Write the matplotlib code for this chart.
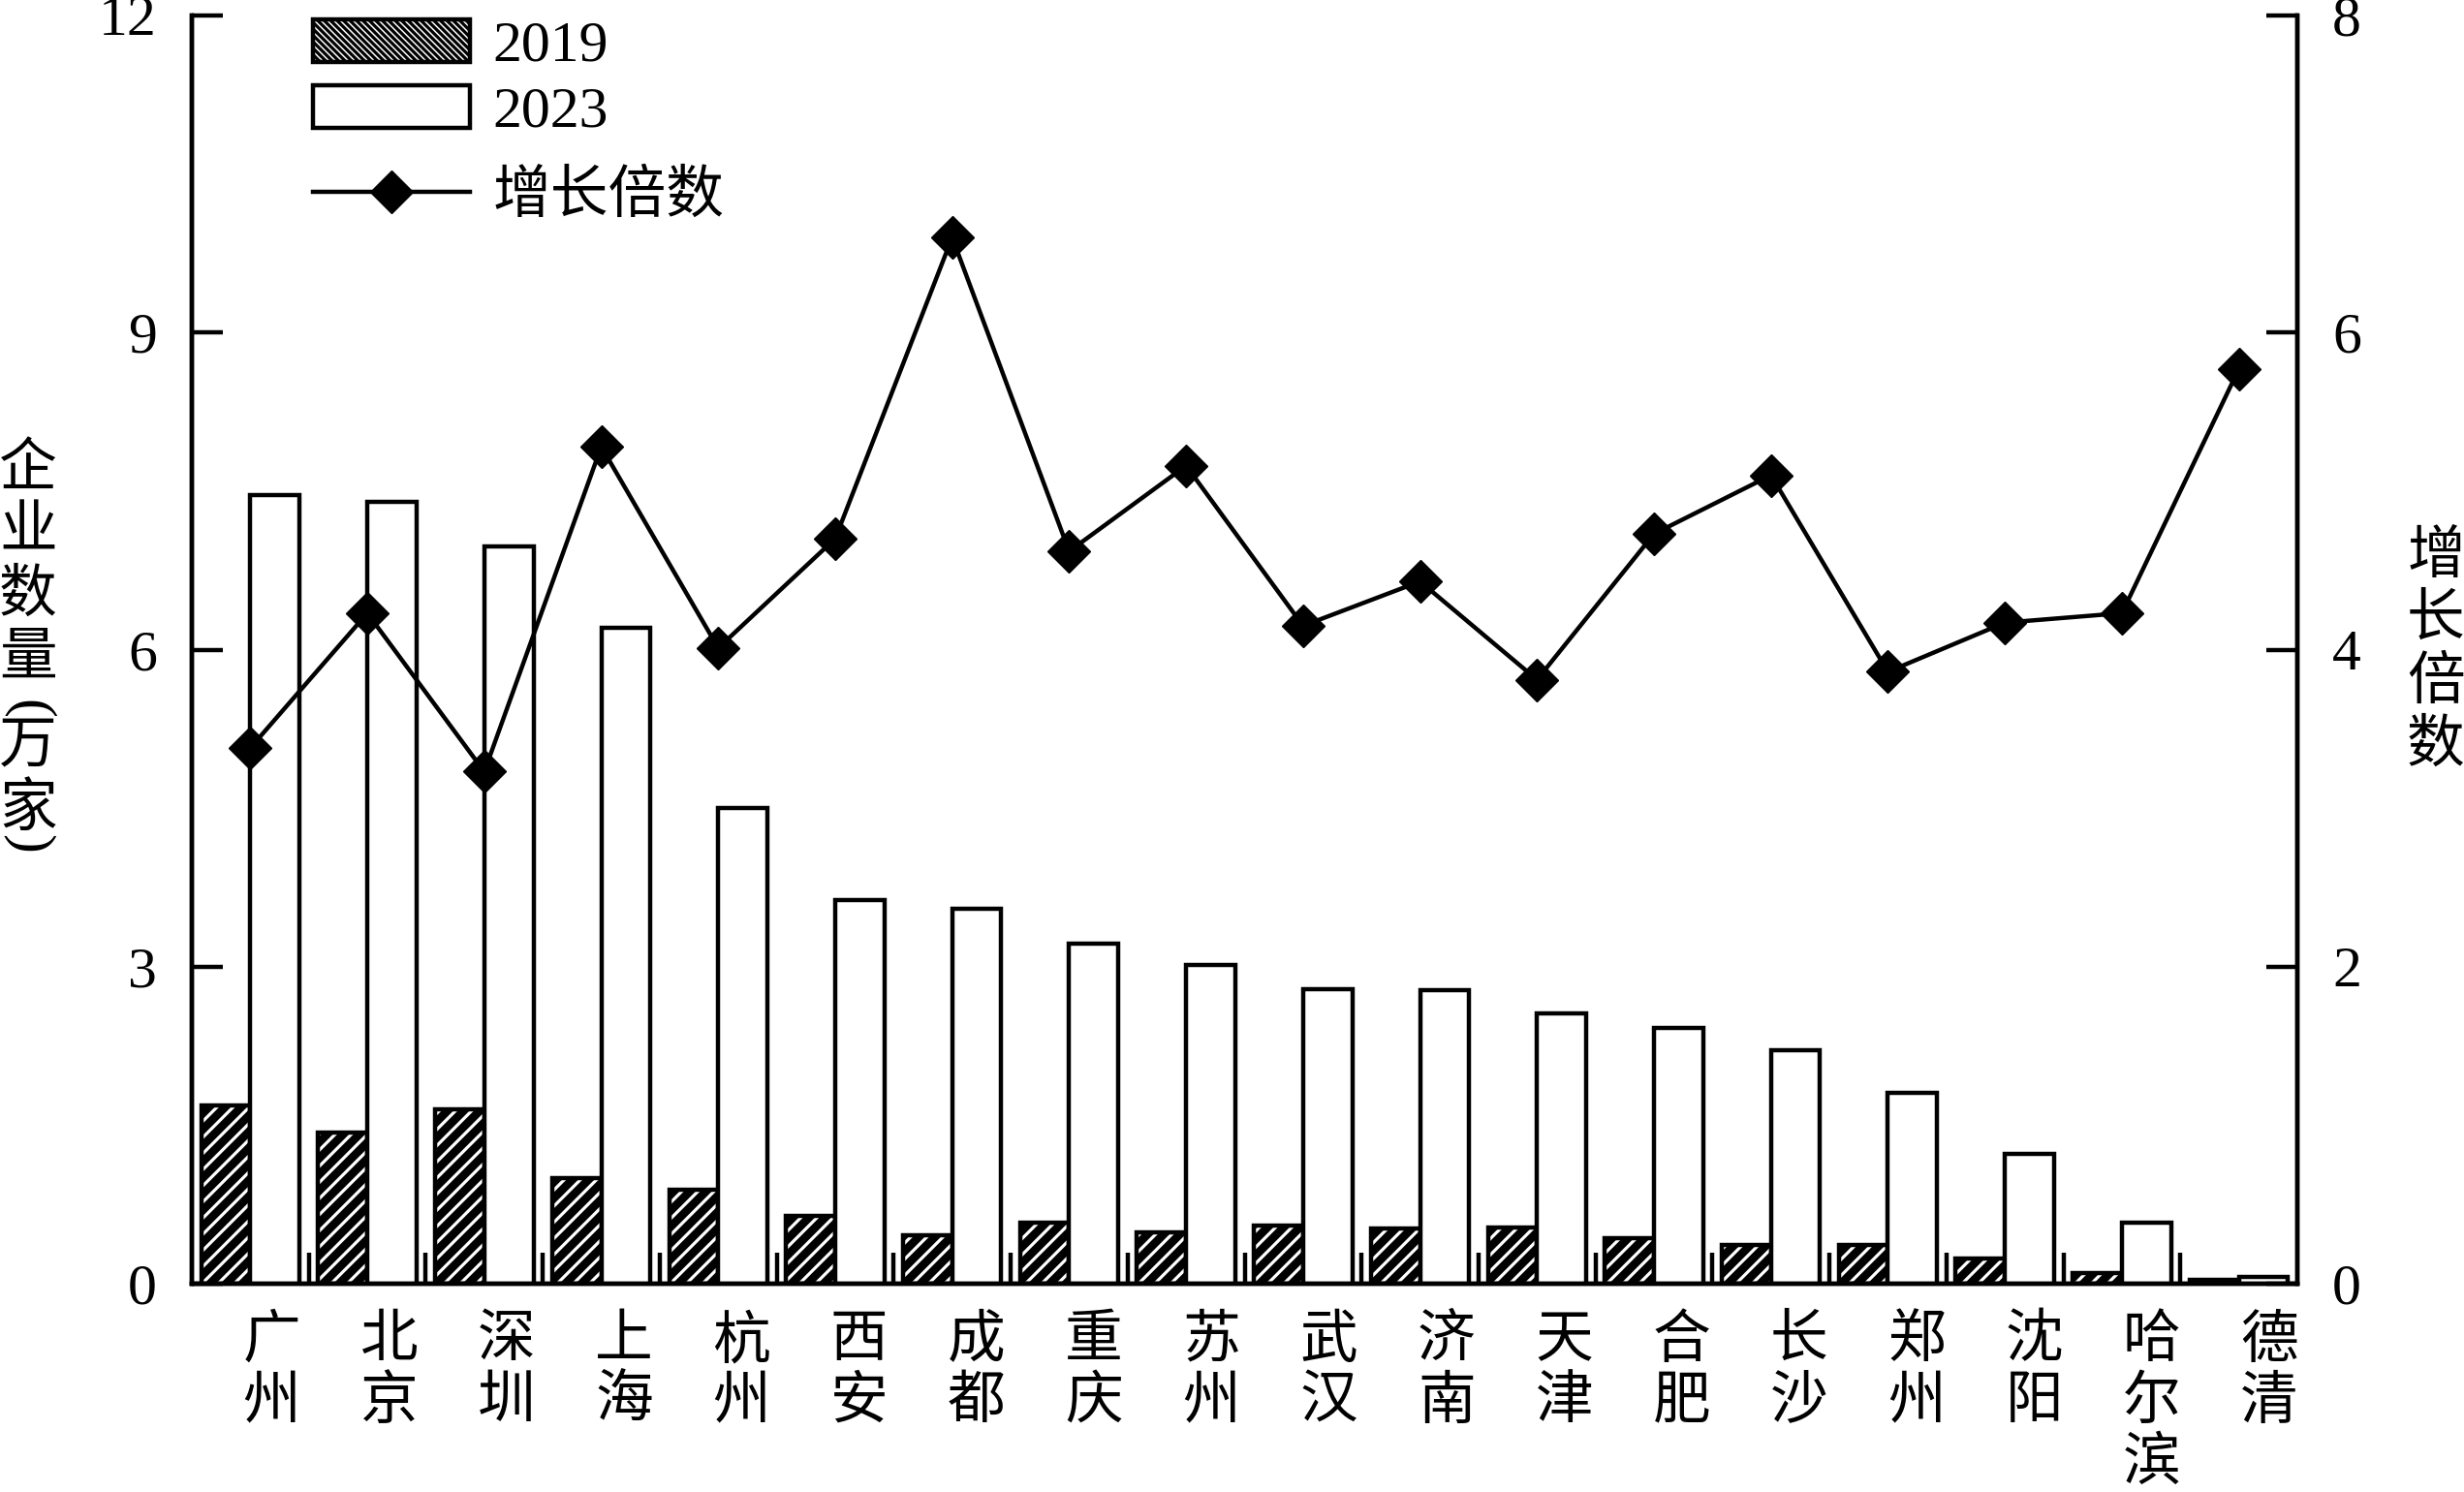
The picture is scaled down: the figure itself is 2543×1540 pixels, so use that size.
"""
plot.py
───────
Enterprise counts by city (2019 vs 2023) with growth multiple on a twin axis.
"""

import matplotlib

matplotlib.use("Agg")

import matplotlib.pyplot as plt
import numpy as np
from matplotlib.lines import Line2D
from matplotlib.patches import Patch


# ─────────────────────────────────────────────
# Data
# ─────────────────────────────────────────────

cities = [
    "广州", "北京", "深圳", "上海", "杭州", "西安", "成都", "重庆", "苏州",
    "武汉", "济南", "天津", "合肥", "长沙", "郑州", "沈阳", "哈尔滨", "德清",
]

count_2019 = [
    1.69, 1.43, 1.65, 1.00, 0.89, 0.64, 0.46, 0.58, 0.49,
    0.55, 0.52, 0.53, 0.43, 0.37, 0.37, 0.24, 0.10, 0.04,
]

count_2023 = [
    7.46, 7.40, 6.98, 6.21, 4.50, 3.63, 3.55, 3.22, 3.02,
    2.79, 2.78, 2.56, 2.42, 2.21, 1.81, 1.23, 0.58, 0.06,
]

growth = [
    3.38, 4.23, 3.23, 5.28, 4.01, 4.70, 6.60, 4.62, 5.16,
    4.15, 4.43, 3.81, 4.73, 5.10, 3.86, 4.17, 4.23, 5.77,
]

left_ticks  = [0, 3, 6, 9, 12]
right_ticks = [0, 2, 4, 6, 8]

left_title  = "企业数量(万家)"
right_title = "增长倍数"


# ─────────────────────────────────────────────
# Plot Defaults
# ─────────────────────────────────────────────

_W, _H    = 2543, 1540
_DPI      = 100
_FONT     = 43
_LW       = 3.2
_BAR_W    = 0.42
_MS       = 22
_AX_TOP   = 16      # px from figure top
_AX_BOT   = 1325
_AX_LEFT  = 198
_AX_RIGHT = 2371

plt.rcParams["font.family"] = ["Liberation Serif", "Noto Sans CJK SC"]
plt.rcParams["font.size"]   = _FONT
plt.rcParams["hatch.linewidth"] = 2.3


def _vertical_title(fig, x_px, top_px, text, pitch=65, half=26):
    """Stack characters top to bottom; brackets turned sideways, half step."""
    y = top_px
    for ch in text:
        if ch == "(":
            y_c, rot = y + half / 2 + 1, 270
            y += half
        elif ch == ")":
            y_c, rot = y + half / 2 - 16, 270
            y += half
        else:
            y_c, rot = y + pitch / 2 - 4, 0
            y += pitch
        fig.text(x_px / _W, 1 - y_c / _H, ch, rotation=rot,
                 ha="center", va="center")


def main():
    x = np.arange(len(cities))

    fig = plt.figure(figsize=(_W / _DPI, _H / _DPI), dpi=_DPI)
    ax1 = fig.add_axes([
        _AX_LEFT / _W, 1 - _AX_BOT / _H,
        (_AX_RIGHT - _AX_LEFT) / _W, (_AX_BOT - _AX_TOP) / _H,
    ])

    # 2019 bars: black fill with white stripes, then black outline
    ax1.bar(x - _BAR_W / 2, count_2019, _BAR_W, color="black",
            edgecolor="white", hatch="//", linewidth=0, zorder=2)
    ax1.bar(x - _BAR_W / 2, count_2019, _BAR_W, fill=False,
            edgecolor="black", linewidth=_LW, zorder=3)

    # 2023 bars: hollow
    ax1.bar(x + _BAR_W / 2, count_2023, _BAR_W, color="white",
            edgecolor="black", linewidth=_LW, zorder=3)

    ax1.set_xlim(-0.5, len(cities) - 0.5)
    ax1.set_ylim(0, 12)
    ax1.set_yticks(left_ticks)
    ax1.set_xticks(x[:-1] + 0.5)
    ax1.set_xticklabels([])

    ax1.tick_params(axis="y", direction="in", length=23, width=_LW, pad=26)
    ax1.tick_params(axis="x", direction="in", length=23, width=_LW)

    for side in ("left", "right", "bottom"):
        ax1.spines[side].set_linewidth(_LW)
    ax1.spines["top"].set_visible(False)

    # City names, one character per row under each group
    ax_h = _AX_BOT - _AX_TOP
    label_x = np.linspace(0.18, len(cities) - 1 + 0.26, len(cities))
    for lx, name in zip(label_x, cities):
        for j, ch in enumerate(name):
            y_c = 1356 + 25 + 63 * j + 5
            ax1.text(lx, -(y_c - _AX_BOT) / ax_h, ch,
                     transform=ax1.get_xaxis_transform(),
                     ha="center", va="center", clip_on=False)

    # Growth multiple on twin axis
    ax2 = ax1.twinx()
    ax2.plot(x, growth, "-", color="black", lw=_LW, marker="D",
             markersize=_MS, markerfacecolor="black", zorder=4)
    ax2.set_ylim(0, 8)
    ax2.set_yticks(right_ticks)
    ax2.tick_params(axis="y", direction="in", length=23, width=_LW, pad=26)
    ax2.spines["top"].set_visible(False)
    for side in ("left", "right", "bottom"):
        ax2.spines[side].set_linewidth(_LW)

    # Axis titles, vertical
    _vertical_title(fig, 29, 458, left_title)
    _vertical_title(fig, 2514, 548, right_title)

    # Legend: bar patches, then the line entry a bit lower
    bar_handles = [
        Patch(facecolor="white", edgecolor="black", hatch="\\\\\\\\\\", linewidth=_LW),
        Patch(facecolor="white", edgecolor="black", linewidth=_LW),
    ]
    leg = ax2.legend(bar_handles, ["2019", "2023"], loc="upper left",
                     bbox_to_anchor=(0.0465, 1.015), frameon=False,
                     handlelength=2.71, handleheight=0.75, handletextpad=0.4,
                     labelspacing=0.2, borderaxespad=0)
    ax2.add_artist(leg)

    line_handle = Line2D([], [], color="black", lw=_LW, marker="D", markersize=_MS)
    ax2.legend([line_handle], ["增长倍数"], loc="center left",
               bbox_to_anchor=(0.0465, 0.856), frameon=False,
               handlelength=2.71, handletextpad=0.4, borderaxespad=0)

    fig.savefig("out.png", dpi=_DPI)
    plt.close(fig)


if __name__ == "__main__":
    main()
